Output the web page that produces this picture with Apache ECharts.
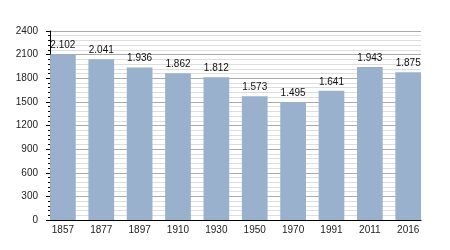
<!DOCTYPE html>
<html><head><meta charset="utf-8">
<script src="https://cdn.jsdelivr.net/npm/echarts@6/dist/echarts.min.js"></script>
<style>html,body{margin:0;padding:0;background:#fff}#c{width:450px;height:250px}</style>
</head><body><div id="c"></div>
<script>
const categories = ['1857','1877','1897','1910','1930','1950','1970','1991','2011','2016'];
const population = [2102, 2041, 1936, 1862, 1812, 1573, 1495, 1641, 1943, 1875];
const yTicks = [0, 300, 600, 900, 1200, 1500, 1800, 2100, 2400];

const font = 'Liberation Sans, Arial, sans-serif';
const chart = echarts.init(document.getElementById('c'), null, {renderer: 'canvas'});
chart.setOption({
  animation: false,
  backgroundColor: '#fff',
  grid: [
    {left: 50, right: 29, top: 31, bottom: 30},
    {left: 43.7, right: 22.6, top: 31, bottom: 30}
  ],
  xAxis: [
    {gridIndex: 0, type: 'value', min: 0, max: 1,
     axisLine: {show: true, lineStyle: {color: '#000', width: 1}},
     axisTick: {show: false}, axisLabel: {show: false}, splitLine: {show: false}},
    {gridIndex: 1, type: 'category', data: categories,
     axisLine: {show: false}, axisTick: {show: false},
     axisLabel: {fontFamily: font, fontSize: 10, color: '#222', margin: 5}}
  ],
  yAxis: [
    {gridIndex: 0, type: 'value', min: yTicks[0], max: yTicks[yTicks.length - 1], interval: 300,
     axisLine: {show: true, lineStyle: {color: '#000', width: 1}},
     axisTick: {show: true, length: 4, lineStyle: {color: '#000'}},
     minorTick: {show: true, splitNumber: 5, length: 2, lineStyle: {color: '#000'}},
     axisLabel: {fontFamily: font, fontSize: 10, color: '#222', margin: 12, formatter: v => String(v)},
     splitLine: {show: true, lineStyle: {color: '#aaa', width: 1}},
     minorSplitLine: {show: true, lineStyle: {color: '#ddd', width: 1}}},
    {gridIndex: 1, type: 'value', min: yTicks[0], max: yTicks[yTicks.length - 1],
     show: false, splitLine: {show: false}}
  ],
  series: [{
    type: 'bar', xAxisIndex: 1, yAxisIndex: 1,
    data: population, barWidth: '67%',
    itemStyle: {color: '#99b1cc'},
    label: {show: true, position: 'top', distance: 4, fontFamily: font, fontSize: 10, color: '#111',
      formatter: p => { const s = String(p.value); return s.length > 3 ? s.slice(0, s.length - 3) + '.' + s.slice(-3) : s; }}
  }]
});
</script></body></html>
